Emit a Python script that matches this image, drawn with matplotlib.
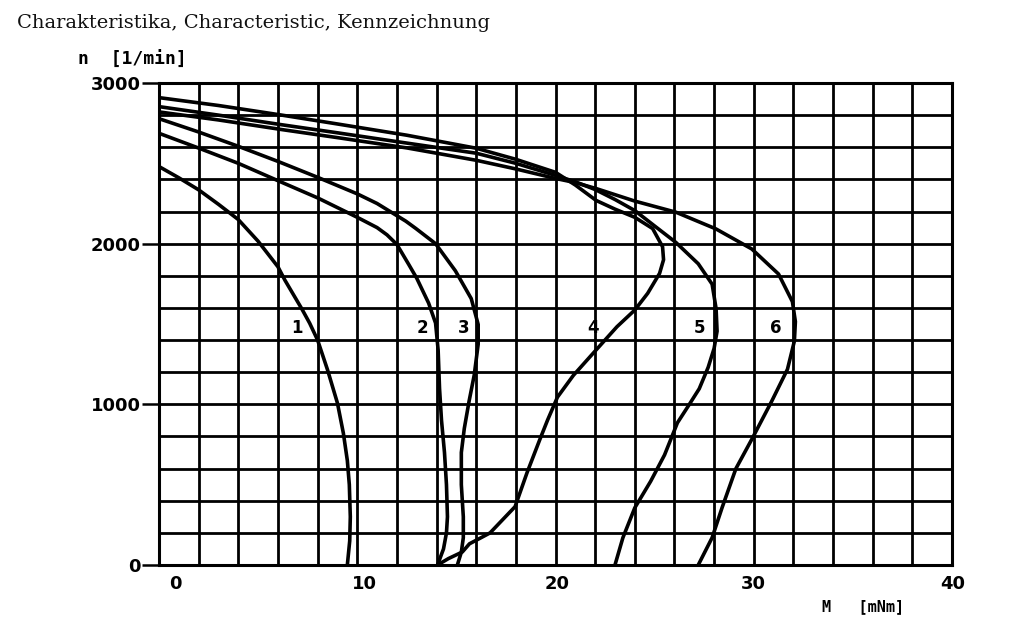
import matplotlib
matplotlib.use("Agg")
import matplotlib.pyplot as plt
import matplotlib.transforms as mtransforms
import numpy as np

# ---- text ----
title = "Charakteristika, Characteristic, Kennzeichnung"
x_label = "M   [mNm]"
y_label = "n  [1/min]"
x_ticks = [0, 10, 20, 30, 40]
y_ticks = [0, 1000, 2000, 3000]

# ---- characteristic curves: torque M [mNm] vs speed n [1/min] ----
m1 = [0, 1.0, 2.0, 3.0, 4.0, 5.0, 6.0, 6.35, 7.2, 7.6, 8.0, 8.5, 9.0, 9.3, 9.5, 9.6, 9.65, 9.62, 9.5]
n1 = [2480, 2410, 2335, 2245, 2150, 2015, 1856, 1773, 1595, 1505, 1400, 1215, 1008, 820, 650, 500, 300, 150, 0]

m2 = [0, 2.0, 4.0, 6.0, 8.0, 10.0, 11.0, 11.5, 12.0, 12.6, 13.0, 13.6, 13.95, 14.08, 14.15, 14.25, 14.4,
      14.5, 14.55, 14.5, 14.35, 14.05]
n2 = [2687, 2595, 2500, 2392, 2285, 2164, 2100, 2055, 1995, 1870, 1785, 1630, 1506, 1338, 1100, 900, 700,
      500, 300, 200, 100, 0]

m3 = [0, 2.0, 4.0, 6.0, 8.0, 10.0, 11.0, 12.45, 12.95, 13.95, 14.95, 15.75, 16.1, 16.1, 15.9, 15.64,
      15.4, 15.25, 15.25, 15.35, 15.35, 15.25, 15.05]
n3 = [2778, 2695, 2606, 2512, 2413, 2310, 2250, 2140, 2095, 2000, 1831, 1658, 1497, 1374, 1182, 1019,
      850, 700, 500, 300, 170, 80, 0]

m4 = [0, 3.0, 6.2, 9.0, 12.5, 16.0, 18.0, 20.0, 21.0, 22.05, 23.0, 24.0, 24.9, 25.4, 25.45, 25.25,
      24.65, 24.0, 23.1, 21.95, 20.9, 20.1, 19.6, 19.2, 18.56, 17.96, 16.7, 16.2, 15.66, 15.3, 14.6, 14.05]
n4 = [2909, 2860, 2800, 2745, 2675, 2594, 2525, 2444, 2365, 2269, 2215, 2164, 2094, 1981, 1900, 1815,
      1691, 1587, 1483, 1325, 1180, 1045, 902, 778, 573, 363, 200, 167, 132, 81, 40, 0]

m5 = [0, 3.0, 6.2, 9.0, 12.5, 16.0, 18.0, 20.0, 21.0, 22.0, 23.0, 24.0, 25.0, 26.07, 27.2, 27.9, 28.1,
      28.15, 28.0, 27.7, 27.25, 26.7, 26.15, 25.5, 24.8, 24.0, 23.4, 23.0]
n5 = [2853, 2800, 2740, 2690, 2626, 2563, 2500, 2425, 2385, 2337, 2275, 2206, 2110, 2008, 1875, 1748,
      1596, 1455, 1348, 1230, 1097, 990, 885, 685, 521, 356, 170, 0]

m6 = [0, 3.0, 6.2, 9.0, 12.5, 16.0, 18.0, 20.0, 21.0, 22.05, 24.0, 26.07, 28.09, 29.9, 31.25, 31.95,
      32.1, 32.05, 31.7, 30.9, 29.9, 29.1, 28.4, 27.9, 27.2]
n6 = [2820, 2770, 2710, 2660, 2596, 2519, 2465, 2406, 2380, 2343, 2265, 2196, 2092, 1967, 1811, 1639,
      1515, 1394, 1218, 1018, 782, 600, 356, 170, 0]

curve_names = ["1", "2", "3", "4", "5", "6"]
label_m = [6.98, 13.28, 15.38, 21.9, 27.26, 31.13]
label_n = [1473, 1473, 1473, 1473, 1473, 1473]

curves = [(m1, n1), (m2, n2), (m3, n3), (m4, n4), (m5, n5), (m6, n6)]

W, H = 1024, 624
fig = plt.figure(figsize=(W / 100, H / 100), dpi=100)
fig.patch.set_facecolor("white")

ax = fig.add_axes([159 / W, 1 - 565 / H, (952 - 159) / W, (565 - 83) / H])
ax.set_xlim(0, 40)
ax.set_ylim(0, 3000)

# fine grid: 2 mNm by 200 1/min (major positions are gridded too)
ax.set_xticks(np.arange(0, 41, 2), minor=True)
ax.set_yticks(np.arange(0, 3001, 200), minor=True)
ax.grid(which="both", color="black", linewidth=2.0)
ax.set_axisbelow(True)

ax.set_xticks(x_ticks)
ax.set_xticklabels([str(v) for v in x_ticks])
ax.set_yticks(y_ticks)
ax.set_yticklabels([str(v) for v in y_ticks])

ax.tick_params(which="minor", length=0)
ax.tick_params(axis="y", which="major", length=12, width=1.8, direction="out", pad=1, labelsize=13)
ax.tick_params(axis="x", which="major", length=0, pad=7, labelsize=13)
for lab in ax.get_xticklabels() + ax.get_yticklabels():
    lab.set_fontweight("bold")
    lab.set_family("DejaVu Sans")

# small rightward nudge of the torque labels (pixels)
x_label_nudge = [16, 7, 2, 0, 1]
for lab, dx in zip(ax.get_xticklabels(), x_label_nudge):
    lab.set_transform(lab.get_transform()
                      + mtransforms.ScaledTranslation(dx / 100, 0, fig.dpi_scale_trans))

for sp in ax.spines.values():
    sp.set_linewidth(2.2)
    sp.set_color("black")

for (m, n) in curves:
    ax.plot(m, n, color="black", linewidth=2.6, solid_capstyle="round",
            solid_joinstyle="round", zorder=3)

for name, lm, ln in zip(curve_names, label_m, label_n):
    ax.text(lm, ln, name, ha="center", va="center", fontsize=12,
            fontweight="bold", family="DejaVu Sans", color="black", zorder=4)

fig.text(17 / W, 1 - 23 / H, title, ha="left", va="center", fontsize=14.0,
         family="DejaVu Serif", color="#111111")
fig.text(78 / W, 1 - 60 / H, y_label, ha="left", va="center", fontsize=13,
         fontweight="bold", family="DejaVu Sans Mono")
fig.text(822 / W, 1 - 607 / H, x_label, ha="left", va="center", fontsize=11,
         fontweight="bold", family="DejaVu Sans Mono")

fig.savefig("out.png", dpi=100, facecolor="white")
